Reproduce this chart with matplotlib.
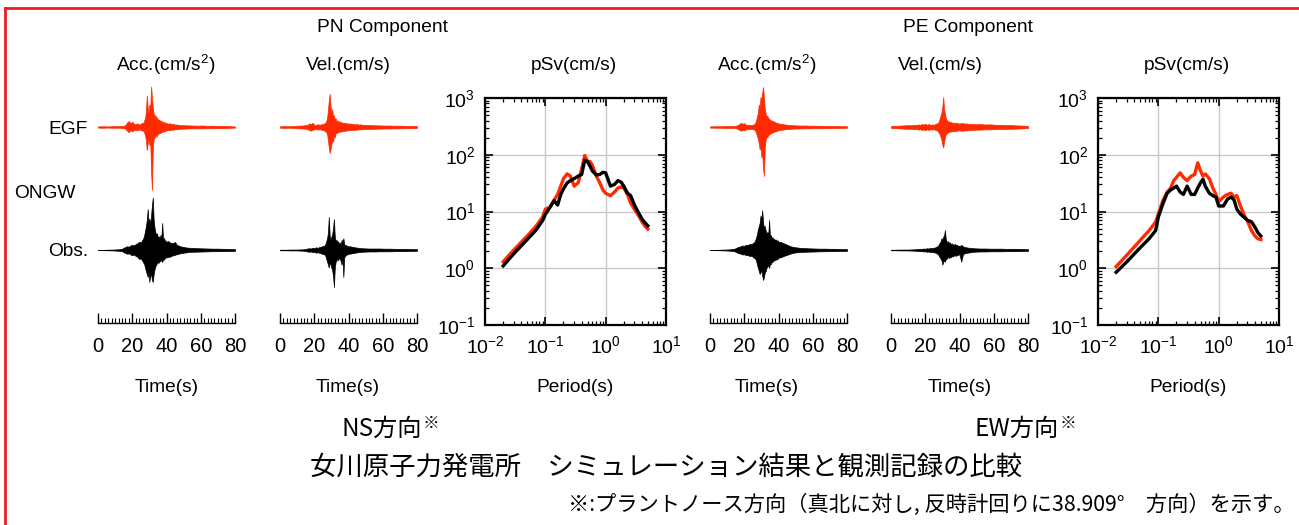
import numpy as np
import matplotlib
matplotlib.use('Agg')
import matplotlib.pyplot as plt
from matplotlib.ticker import MultipleLocator, LogLocator, NullFormatter

# Data ################################################################
# envelope knots of the waveforms (s)
t_knots = [0, 3, 6, 9, 12,
           14, 15, 16, 17, 18, 19, 20, 21, 22, 23, 24, 25, 26,
           26.5, 27, 27.5, 28, 28.5, 29, 29.5, 30, 30.5, 31, 31.5, 32, 32.5, 33,
           33.5, 34, 34.5, 35, 35.5, 36, 36.5, 37, 37.5, 38, 38.5, 39, 39.5, 40,
           41, 42, 43, 44, 45, 46, 47, 48,
           50, 52, 55, 58, 61, 64, 67, 70, 73, 76, 80]

# PN acceleration (cm/s2): upper / lower envelope
pn_acc_egf_up = [4, 5, 4, 6, 5,
                 7, 8, 12, 30, 40, 25, 35, 20, 18, 25, 15, 22, 30,
                 25, 45, 60, 110, 210, 130, 90, 150, 120, 270, 200, 130, 90, 70,
                 80, 55, 65, 45, 50, 40, 45, 35, 38, 30, 33, 28, 30, 25,
                 22, 25, 18, 20, 16, 17, 14, 13,
                 12, 11, 10, 9, 10, 8, 9, 7, 8, 6, 4]
pn_acc_egf_lo = [-4, -5, -4, -5, -5,
                 -6, -8, -12, -25, -35, -20, -30, -18, -20, -22, -15, -20, -25,
                 -22, -40, -55, -90, -155, -110, -80, -120, -100, -300, -419.6, -140, -80, -60,
                 -70, -50, -60, -42, -45, -38, -40, -32, -35, -28, -30, -25, -27, -22,
                 -20, -22, -17, -18, -15, -15, -13, -12,
                 -11, -10, -9, -9, -9, -8, -8, -7, -7, -6, -4]
pn_acc_obs_up = [1, 1, 2, 3, 5,
                 8, 15, 20, 25, 22, 30, 35, 30, 40, 45, 55, 50, 70,
                 80, 100, 130, 160, 200, 273, 180, 210, 170, 230, 300, 349.9, 200, 150,
                 120, 100, 110, 85, 90, 80, 100, 85, 180, 70, 80, 65, 60, 55,
                 60, 50, 45, 48, 53, 35, 30, 25,
                 20, 16, 14, 12, 11, 10, 9, 9, 8, 7, 6]
pn_acc_obs_lo = [-1, -1, -2, -3, -5,
                 -8, -15, -20, -25, -22, -30, -35, -30, -40, -45, -60, -55, -75,
                 -85, -95, -120, -140, -160, -180, -150, -213, -170, -160, -200, -213, -160, -130,
                 -110, -95, -90, -80, -85, -75, -70, -70, -80, -60, -65, -55, -50, -50,
                 -45, -45, -38, -35, -32, -28, -25, -22,
                 -18, -15, -12, -11, -10, -9, -8, -8, -7, -7, -6]

# PN velocity (cm/s)
pn_vel_egf_up = [0.5, 0.6, 0.5, 0.8, 1.0,
                 1.0, 1.5, 1.2, 2.5, 2.0, 2.8, 1.5, 1.2, 2.0, 1.5, 1.8, 2.0, 2.5,
                 3, 4, 6, 12, 18, 22.6, 14, 10, 12, 7, 8, 5, 6, 4,
                 4.5, 3.5, 4, 3, 3.5, 2.8, 3.2, 2.6, 3.0, 2.4, 2.8, 2.2, 2.6, 2.2,
                 2.4, 2.0, 2.2, 1.8, 2.0, 1.6, 1.8, 1.5,
                 1.5, 1.3, 1.2, 1.1, 1.0, 1.0, 0.9, 0.9, 0.8, 0.8, 0.6]
pn_vel_egf_lo = [-0.5, -0.6, -0.5, -0.8, -1.0,
                 -1.0, -1.2, -1.5, -2.0, -2.5, -2.0, -1.5, -1.2, -1.8, -1.5, -1.8, -2.0, -2.5,
                 -3, -3.5, -5, -9, -14, -17.7, -15, -12, -9, -10, -6, -7, -4.5, -4,
                 -4, -3.5, -3.5, -3, -3.2, -2.8, -3, -2.5, -2.8, -2.3, -2.6, -2.2, -2.4, -2.0,
                 -2.2, -2.0, -2.0, -1.8, -1.8, -1.6, -1.6, -1.5,
                 -1.4, -1.3, -1.2, -1.1, -1.0, -1.0, -0.9, -0.9, -0.8, -0.8, -0.6]
pn_vel_obs_up = [0.2, 0.2, 0.3, 0.3, 0.4,
                 0.5, 0.8, 1.0, 1.2, 1.0, 1.5, 1.3, 1.8, 1.5, 2.0, 2.2, 2.8, 3.0,
                 4, 6, 8, 12, 22.5, 10, 7, 9, 11, 15, 21, 9, 6, 7,
                 5, 6, 4, 5, 4, 7, 5, 8, 4, 3, 3.5, 2.5, 3, 2.5,
                 2.5, 2.2, 2.0, 1.8, 1.6, 1.5, 1.3, 1.2,
                 1.1, 1.0, 1.0, 1.0, 0.9, 0.9, 0.8, 0.8, 0.8, 0.7, 0.6]
pn_vel_obs_lo = [-0.2, -0.2, -0.3, -0.3, -0.4,
                 -0.5, -0.8, -1.0, -1.2, -1.0, -1.5, -1.3, -1.8, -1.5, -2.0, -2.2, -2.8, -3.0,
                 -4, -6, -8, -10, -12, -8, -10, -12, -14, -18, -25.2, -12, -8, -7,
                 -6, -7, -5, -6, -8, -10, -6, -18.4, -5, -4, -3.5, -3, -3, -2.5,
                 -2.5, -2.2, -2.0, -1.8, -1.6, -1.5, -1.3, -1.2,
                 -1.1, -1.0, -1.0, -0.9, -0.9, -0.9, -0.8, -0.8, -0.8, -0.7, -0.6]

# PE acceleration (cm/s2)
pe_acc_egf_up = [4, 5, 5, 6, 6,
                 7, 8, 12, 18, 28, 22, 25, 15, 14, 16, 12, 15, 20,
                 30, 50, 70, 100, 150, 130, 200, 180, 230, 267, 200, 120, 90, 70,
                 75, 60, 55, 50, 45, 42, 38, 40, 32, 35, 28, 30, 25, 24,
                 22, 20, 18, 17, 15, 14, 13, 12,
                 11, 10, 10, 9, 9, 8, 8, 7, 7, 6, 5]
pe_acc_egf_lo = [-4, -5, -5, -6, -6,
                 -7, -8, -12, -18, -25, -20, -22, -15, -14, -14, -12, -14, -18,
                 -28, -45, -60, -80, -110, -150, -130, -200, -180, -280, -327.3, -130, -85, -65,
                 -70, -55, -50, -46, -42, -38, -36, -35, -30, -30, -26, -27, -23, -22,
                 -20, -18, -17, -15, -14, -13, -12, -11,
                 -10, -10, -9, -9, -8, -8, -7, -7, -7, -6, -5]
pe_acc_obs_up = [1, 1, 2, 3, 5,
                 8, 12, 18, 22, 25, 30, 28, 35, 32, 40, 38, 45, 55,
                 70, 85, 110, 140, 160, 180, 230, 200, 265.1, 180, 150, 160, 130, 110,
                 120, 100, 200, 90, 100, 80, 85, 70, 75, 65, 70, 60, 65, 55,
                 55, 50, 45, 40, 35, 30, 25, 22,
                 18, 15, 13, 11, 10, 9, 9, 8, 8, 7, 6]
pe_acc_obs_lo = [-1, -1, -2, -3, -5,
                 -8, -12, -18, -22, -25, -30, -28, -35, -32, -40, -38, -45, -55,
                 -60, -75, -100, -120, -140, -160, -150, -130, -170, -200, -180, -150, -140, -120,
                 -110, -100, -120, -90, -95, -80, -80, -70, -70, -65, -65, -58, -60, -50,
                 -50, -45, -40, -36, -32, -28, -24, -20,
                 -16, -14, -12, -11, -10, -9, -8, -8, -7, -7, -6]

# PE velocity (cm/s)
pe_vel_egf_up = [0.6, 0.8, 1.0, 1.2, 1.2,
                 1.5, 1.2, 1.8, 1.4, 2.0, 1.6, 2.2, 1.5, 2.0, 1.4, 1.8, 1.5, 2.0,
                 2.5, 2.2, 3, 4, 6, 8, 10, 14, 20.4, 12, 9, 6, 5, 4,
                 3.5, 4, 3, 3.5, 2.8, 3.2, 2.6, 3.0, 2.5, 3.0, 2.4, 2.8, 2.2, 2.6,
                 2.4, 2.8, 2.2, 2.5, 2.0, 2.3, 1.9, 2.1,
                 1.8, 2.0, 1.7, 1.8, 1.5, 1.5, 1.3, 1.3, 1.1, 1.0, 0.7]
pe_vel_egf_lo = [-0.6, -0.8, -1.0, -1.2, -1.2,
                 -1.5, -1.2, -1.8, -1.4, -2.0, -1.6, -2.2, -1.5, -2.0, -1.4, -1.8, -1.5, -2.0,
                 -2.2, -2.5, -3, -4, -5, -7, -9, -12, -14, -10, -7, -5, -4.5, -4,
                 -3.5, -3.5, -3, -3.2, -2.8, -3, -2.6, -2.8, -2.5, -2.8, -2.3, -2.6, -2.2, -2.4,
                 -2.4, -2.6, -2.2, -2.4, -2.0, -2.2, -1.8, -2.0,
                 -1.8, -1.8, -1.6, -1.6, -1.4, -1.4, -1.3, -1.2, -1.1, -1.0, -0.7]
pe_vel_obs_up = [0.2, 0.2, 0.3, 0.3, 0.4,
                 0.5, 0.6, 0.7, 0.8, 0.8, 1.0, 0.9, 1.2, 1.0, 1.4, 1.3, 1.6, 1.8,
                 2.2, 2.5, 3, 4, 5, 6, 8, 7, 9, 10, 13.5, 7, 6, 5,
                 6, 4.5, 5, 4, 4.5, 3.5, 4, 3.5, 4.2, 3.0, 3.5, 2.8, 3.0, 2.6,
                 3.5, 2.5, 2.0, 1.8, 1.6, 1.5, 1.3, 1.2,
                 1.1, 1.0, 1.0, 0.9, 0.9, 0.9, 0.8, 0.8, 0.8, 0.7, 0.6]
pe_vel_obs_lo = [-0.2, -0.2, -0.3, -0.3, -0.4,
                 -0.5, -0.6, -0.7, -0.8, -0.8, -1.0, -0.9, -1.2, -1.0, -1.4, -1.3, -1.6, -1.8,
                 -2.2, -2.5, -3, -4, -5, -6, -7, -10, -8, -7, -8, -6, -6, -5,
                 -5, -5.5, -4.5, -5, -4, -4.5, -3.5, -4, -3.5, -4, -3, -3.5, -3, -3,
                 -8, -3, -2.2, -2.0, -1.8, -1.6, -1.4, -1.2,
                 -1.1, -1.0, -1.0, -0.9, -0.9, -0.9, -0.8, -0.8, -0.8, -0.7, -0.6]

# peak labels
pn_peaks = [['419.6', '349.9'], ['22.6', '25.2']]
pe_peaks = [['327.3', '265.1'], ['20.4', '13.5']]

# pseudo velocity response spectra (cm/s)
period = [0.02, 0.03, 0.05, 0.07, 0.09, 0.1, 0.12, 0.14, 0.16, 0.18, 0.2, 0.23, 0.26, 0.3,
          0.35, 0.4, 0.45, 0.5, 0.55, 0.6, 0.7, 0.8, 0.9, 1.0, 1.2, 1.4, 1.6, 1.8, 2.0,
          2.3, 2.6, 3.0, 3.5, 4.0, 4.5, 5.0]
pn_psv_egf = [1.3, 2.1, 3.7, 5.5, 8, 11, 12, 16, 20, 28, 38, 46, 42, 28,
              32, 56, 97, 76, 76, 66, 42, 32, 24, 21, 19, 22, 26, 27, 26,
              20, 14, 11, 8.5, 6.6, 5.5, 4.9]
pn_psv_obs = [1.1, 1.8, 3.2, 4.7, 6.9, 8.9, 12, 15.5, 13, 20, 25, 32, 35, 38,
              42, 45, 80, 76, 63, 52, 44, 45, 49, 48, 28, 30, 35, 33, 28,
              21, 19, 13, 9.5, 7.4, 6.3, 5.6]
pe_psv_egf = [1.07, 1.7, 3.1, 4.6, 6.5, 9, 16, 22, 26, 35, 40, 48, 40, 35,
              42, 45, 72, 52, 42, 46, 38, 26, 20, 15, 18, 20, 21, 18, 19,
              12.5, 9, 6.8, 4.6, 3.7, 3.3, 3.2]
pe_psv_obs = [0.85, 1.3, 2.3, 3.3, 4.6, 8, 14, 21, 24, 26, 28, 22, 20, 28,
              20, 20, 26, 32, 37, 28, 21, 19, 18, 12.5, 12.5, 16.5, 18, 16, 11,
              9, 8, 7, 6.6, 5.3, 4.2, 3.7]

# Style ###############################################################
plt.rcParams['font.family'] = ['Liberation Sans', 'DejaVu Sans']
plt.rcParams['mathtext.fontset'] = 'custom'
plt.rcParams['mathtext.rm'] = 'Liberation Sans'
plt.rcParams['mathtext.it'] = 'Liberation Sans:italic'
JP = ['Noto Sans CJK JP', 'DejaVu Sans']
RED = '#ff2a00'
W, H = 1299, 525

fig = plt.figure(figsize=(W / 100, H / 100), dpi=100)


def px_axes(x0, y0, x1, y1):
    # axes from pixel box (top-left origin)
    return fig.add_axes([x0 / W, 1 - y1 / H, (x1 - x0) / W, (y1 - y0) / H])


def wave_panel(x0, up_egf, lo_egf, up_obs, lo_obs, gain):
    ax = px_axes(x0, 80, x0 + 137, 323)
    t = np.array(t_knots)
    ax.fill_between(t, 196 + gain * np.array(lo_egf), 196 + gain * np.array(up_egf),
                    color=RED, lw=0.5)
    ax.fill_between(t, 73 + gain * np.array(lo_obs), 73 + gain * np.array(up_obs),
                    color='black', lw=0.5)
    ax.set_xlim(0, 80)
    ax.set_ylim(0, 243)
    for s in ['top', 'left', 'right']:
        ax.spines[s].set_visible(False)
    ax.spines['bottom'].set_linewidth(1.0)
    ax.set_yticks([])
    ax.xaxis.set_major_locator(MultipleLocator(20))
    ax.xaxis.set_minor_locator(MultipleLocator(2))
    ax.tick_params(axis='x', which='major', direction='in', length=7, width=1,
                   labelsize=14.5, pad=10)
    ax.tick_params(axis='x', which='minor', direction='in', length=3.5, width=0.8)
    return ax


def psv_panel(x0, egf, obs):
    ax = px_axes(x0, 98, x0 + 181, 325)
    ax.plot(period, egf, color=RED, lw=2.4)
    ax.plot(period, obs, color='black', lw=2.4)
    ax.set_xscale('log')
    ax.set_yscale('log')
    ax.set_xlim(1e-2, 1e1)
    ax.set_ylim(1e-1, 1e3)
    ax.xaxis.set_major_locator(LogLocator(base=10, numticks=10))
    ax.yaxis.set_major_locator(LogLocator(base=10, numticks=10))
    ax.xaxis.set_minor_locator(LogLocator(base=10, subs=np.arange(2, 10), numticks=10))
    ax.yaxis.set_minor_locator(LogLocator(base=10, subs=np.arange(2, 10), numticks=10))
    ax.xaxis.set_minor_formatter(NullFormatter())
    ax.yaxis.set_minor_formatter(NullFormatter())
    ax.grid(True, which='major', color='#c8c8c8', lw=1)
    for s in ax.spines.values():
        s.set_linewidth(1.6)
    ax.tick_params(axis='both', direction='in', which='both', top=True, right=True)
    ax.tick_params(which='major', length=6, width=1.2, labelsize=14, pad=7)
    ax.tick_params(which='minor', length=3, width=0.9)
    return ax


# Panels ##############################################################
wave_panel(98, pn_acc_egf_up, pn_acc_egf_lo, pn_acc_obs_up, pn_acc_obs_lo, 0.15)
wave_panel(280, pn_vel_egf_up, pn_vel_egf_lo, pn_vel_obs_up, pn_vel_obs_lo, 1.47)
psv_panel(485, pn_psv_egf, pn_psv_obs)
wave_panel(710, pe_acc_egf_up, pe_acc_egf_lo, pe_acc_obs_up, pe_acc_obs_lo, 0.15)
wave_panel(891, pe_vel_egf_up, pe_vel_egf_lo, pe_vel_obs_up, pe_vel_obs_lo, 1.47)
psv_panel(1098, pe_psv_egf, pe_psv_obs)

# Text overlay in pixel coordinates ###################################
ov = fig.add_axes([0, 0, 1, 1], zorder=-1)
ov.set_xlim(0, W)
ov.set_ylim(H, 0)
ov.axis('off')

ov.plot([5, W], [8, 8], color='#ee1c24', lw=2, clip_on=False)
ov.plot([5, 5], [8, H], color='#ee1c24', lw=2, clip_on=False)

fs = 13.8
ov.text(382, 27, 'PN Component', ha='center', va='center', fontsize=fs)
ov.text(968, 27, 'PE Component', ha='center', va='center', fontsize=fs)
for x, lab in [(166, r'Acc.(cm/s$^2$)'), (348, 'Vel.(cm/s)'), (574, 'pSv(cm/s)'),
               (767, r'Acc.(cm/s$^2$)'), (940, 'Vel.(cm/s)'), (1187, 'pSv(cm/s)')]:
    ov.text(x, 65, lab, ha='center', va='center', fontsize=fs)
for x, lab in [(167, 'Time(s)'), (348, 'Time(s)'), (575, 'Period(s)'),
               (767, 'Time(s)'), (960, 'Time(s)'), (1188, 'Period(s)')]:
    ov.text(x, 387, lab, ha='center', va='center', fontsize=fs)

ov.text(88, 130, 'EGF', ha='right', va='center', fontsize=fs)
ov.text(45, 193, 'ONGW', ha='center', va='center', fontsize=fs)
ov.text(88, 251, 'Obs.', ha='right', va='center', fontsize=fs)

for xr, peaks in [(235, pn_peaks[0]), (415, pn_peaks[1]), (847, pe_peaks[0]), (1027, pe_peaks[1])]:
    ov.text(xr, 105, peaks[0], ha='right', va='center', fontsize=fs)
    ov.text(xr, 228, peaks[1], ha='right', va='center', fontsize=fs)

for x, lab in [(342, 'NS方向'), (975, 'EW方向')]:
    t = ov.text(x, 429, lab, ha='left', va='center', fontsize=17.5, family=JP)
    ov.annotate('※', xy=(1, 1), xycoords=t, xytext=(0, 1), textcoords='offset points',
                ha='left', va='top', fontsize=12, family=JP)

ov.text(666, 467, '女川原子力発電所　シミュレーション結果と観測記録の比較',
        ha='center', va='center', fontsize=19, family=JP)
ov.text(1295, 505, '※:プラントノース方向（真北に対し, 反時計回りに38.909°　方向）を示す。',
        ha='right', va='center', fontsize=15.3, family=JP)

plt.savefig('out.png', dpi=100)
